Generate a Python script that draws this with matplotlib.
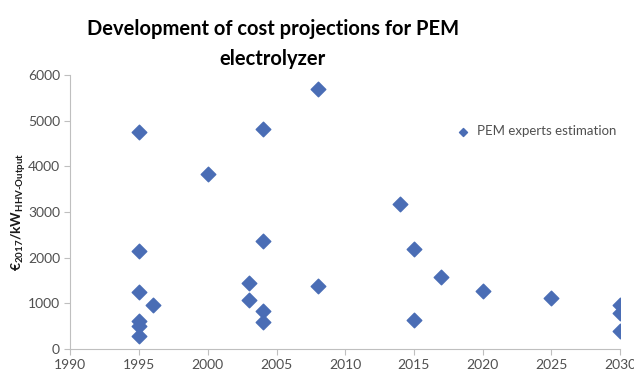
import matplotlib
matplotlib.use("Agg")
import matplotlib.pyplot as plt

# values
years = [1995, 1995, 1995, 1995, 1995, 1995, 1996, 2000, 2003, 2003,
         2004, 2004, 2004, 2004, 2008, 2008, 2014, 2015, 2015, 2017,
         2020, 2025, 2030, 2030, 2030]
cost = [4750, 2140, 1250, 620, 500, 290, 960, 3830, 1450, 1080,
        4830, 2370, 830, 580, 5700, 1380, 3180, 2190, 640, 1580,
        1280, 1110, 970, 780, 400]
series_name = "PEM experts estimation"
x_ticks = list(range(1990, 2031, 5))
y_ticks = list(range(0, 6001, 1000))

plt.rcParams['font.family'] = ['Lato', 'DejaVu Sans']
plt.rcParams['mathtext.fontset'] = 'custom'
plt.rcParams['mathtext.rm'] = 'Lato:bold'
plt.rcParams['mathtext.it'] = 'Lato:bold'
plt.rcParams['mathtext.bf'] = 'Lato:bold'

grey = '#505050'
blue = '#4A6DB5'

fig = plt.figure(figsize=(6.34, 3.74), dpi=100)
ax = fig.add_axes([0.111, 0.067, 0.867, 0.732])

ax.scatter(years, cost, marker='D', s=55, color=blue, label=series_name, zorder=3)

ax.set_xlim(1990, 2030)
ax.set_ylim(0, 6000)
ax.set_xticks(x_ticks)
ax.set_yticks(y_ticks)
for s in ['top', 'right']:
    ax.spines[s].set_visible(False)
for s in ['left', 'bottom']:
    ax.spines[s].set_color('#bfbfbf')
ax.tick_params(colors='#bfbfbf', labelcolor=grey, labelsize=10, length=4)

ax.set_ylabel(r'$€_{2017}/kW_{HHV\text{-}Output}$', fontsize=10,
              color='#1a1a1a', labelpad=0)

fig.text(0.43, 0.883, 'Development of cost projections for PEM\nelectrolyzer',
         fontsize=14.5, fontweight='bold', ha='center', va='center',
         multialignment='center', linespacing=1.65)

ax.legend(loc='center left', bbox_to_anchor=(0.69, 0.795), frameon=False,
          fontsize=9.5, labelcolor=grey, handletextpad=0.05, markerscale=0.55,
          borderaxespad=0, borderpad=0)

fig.savefig('out.png', dpi=100)
